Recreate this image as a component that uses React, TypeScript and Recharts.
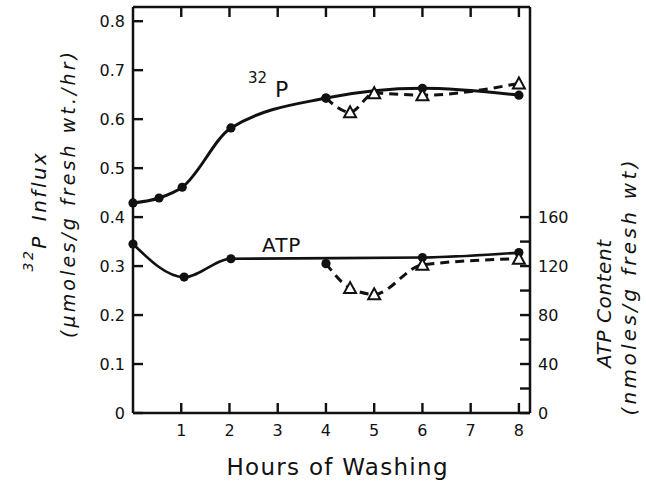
import React from 'react';
import { LineChart, Line, XAxis, YAxis, Label } from 'recharts';

// hours of washing and readings taken off the figure
const p32Hours = [0, 0.54, 1.02, 2.03, 4.0, 6.0, 8.0];
const p32Influx = [0.429, 0.439, 0.461, 0.582, 0.643, 0.663, 0.649];
const p32DipHours = [4.0, 4.5, 5.0, 6.0, 8.0];
const p32DipInflux = [0.643, 0.614, 0.653, 0.649, 0.673];

const atpHours = [0, 1.06, 2.03, 6.0, 8.0];
const atpContent = [138, 111, 126, 127, 131];
const atpDipHours = [4.0, 4.5, 5.0, 6.0, 8.0];
const atpDipContent = [122, 102, 97, 121, 126];

const hourTicks = [1, 2, 3, 4, 5, 6, 7, 8];
const influxTicks = [0, 0.1, 0.2, 0.3, 0.4, 0.5, 0.6, 0.7, 0.8];
const atpTicks = [0, 20, 40, 60, 80, 100, 120, 140, 160];

const toPoints = (xs: number[], ys: number[]) => xs.map((x, i) => ({ x, y: ys[i] }));

const ink = '#111';
const font = '"DejaVu Sans", sans-serif';

const xMax = 8.23;
const influxMax = 0.829;
const atpMax = 331.6;

const FilledDot = (props: any) => (
  <circle key={`f-${props.index}`} cx={props.cx} cy={props.cy} r={4.6} fill={ink} />
);

// first point of a dip series is the shared filled circle, the rest are open triangles
const DipDot = (props: any) => {
  const { cx, cy, index } = props;
  if (index === 0) return <circle key={`c-${index}`} cx={cx} cy={cy} r={4.6} fill={ink} />;
  return (
    <path
      key={`t-${index}`}
      d={`M${cx},${cy - 6} L${cx - 6},${cy + 5} L${cx + 6},${cy + 5} Z`}
      fill="#fff"
      stroke={ink}
      strokeWidth={2}
    />
  );
};

// inward frame ticks, placed at the tick values by the chart's scales
const tickMark = (dx: number, dy: number) => (props: any) => (
  <rect
    key={`m-${props.index}`}
    x={Math.min(props.cx, props.cx + dx) - (dx === 0 ? 1.2 : 0)}
    y={Math.min(props.cy, props.cy + dy) - (dy === 0 ? 1.2 : 0)}
    width={dx === 0 ? 2.4 : Math.abs(dx)}
    height={dy === 0 ? 2.4 : Math.abs(dy)}
    fill={ink}
  />
);
const UpMark = tickMark(0, -10);
const DownMark = tickMark(0, 10);
const RightMark = tickMark(10, 0);
const LeftMark = tickMark(-10, 0);

const BottomTick = (props: any) => (
  <text x={props.x} y={props.y + 23} textAnchor="middle" fontSize={16} fontFamily={font} fill={ink}>
    {props.payload.value}
  </text>
);

const LeftTick = (props: any) => {
  const v = props.payload.value;
  return (
    <text x={props.x - 8} y={props.y} dy="0.36em" textAnchor="end" fontSize={16} fontFamily={font} fill={ink}>
      {v === 0 ? '0' : v.toFixed(1)}
    </text>
  );
};

const RightTick = (props: any) => {
  const v = props.payload.value;
  if (v % 40 !== 0) return <g />;
  return (
    <text x={props.x + 8} y={props.y} dy="0.36em" textAnchor="start" fontSize={16} fontFamily={font} fill={ink}>
      {v}
    </text>
  );
};

// all the free text of the figure, drawn inside the chart's own svg
const FigureText = () => (
  <g fontFamily={font} fill={ink}>
    <text x={248} y={83} fontSize={15}>32</text>
    <text x={275} y={97} fontSize={22}>P</text>
    <text x={262} y={252} fontSize={20} letterSpacing={1}>ATP</text>
    <text x={337} y={475} fontSize={23} textAnchor="middle" textLength={221} lengthAdjust="spacing">
      Hours of Washing
    </text>
    <g transform="translate(46,211) rotate(-90)">
      <text x={0} y={0} textAnchor="middle" fontStyle="italic" letterSpacing={2.5} wordSpacing={4}>
        <tspan fontSize={14} dy={-13}>32</tspan>
        <tspan fontSize={20} dy={13}>P Influx</tspan>
      </text>
    </g>
    <g transform="translate(75,195) rotate(-90)">
      <text x={0} y={0} textAnchor="middle" fontStyle="italic" fontSize={19} textLength={286} lengthAdjust="spacing">
        (μmoles/g fresh wt./hr)
      </text>
    </g>
    <g transform="translate(611,304) rotate(-90)">
      <text x={0} y={0} textAnchor="middle" fontStyle="italic" fontSize={20} textLength={128} lengthAdjust="spacing">
        ATP Content
      </text>
    </g>
    <g transform="translate(636,288) rotate(-90)">
      <text x={0} y={0} textAnchor="middle" fontStyle="italic" fontSize={20} textLength={255} lengthAdjust="spacing">
        (nmoles/g fresh wt)
      </text>
    </g>
  </g>
);

const axisLine = { stroke: ink, strokeWidth: 2.5 };

export default function App() {
  const p32Points = toPoints(p32Hours, p32Influx);
  const p32DipPoints = toPoints(p32DipHours, p32DipInflux);
  const atpPoints = toPoints(atpHours, atpContent);
  const atpDipPoints = toPoints(atpDipHours, atpDipContent);

  const bottomMarks = hourTicks.map((h) => ({ x: h, y: 0 }));
  const topMarks = hourTicks.map((h) => ({ x: h, y: influxMax }));
  const leftMarks = influxTicks.map((v) => ({ x: 0, y: v }));
  const rightMarks = atpTicks.map((v) => ({ x: xMax, y: v }));
  const topFrame = [{ x: 0, y: influxMax }, { x: xMax, y: influxMax }];

  return (
    <div style={{ position: 'absolute', left: 0, top: 0, width: 646, height: 482, background: '#fff' }}>
      <LineChart width={646} height={482} margin={{ top: 7, right: 56, bottom: 39, left: 73 }}>
        <XAxis
          xAxisId="b"
          dataKey="x"
          type="number"
          domain={[0, xMax]}
          ticks={hourTicks}
          interval={0}
          tickSize={0}
          tickMargin={0}
          tickLine={false}
          tick={BottomTick}
          axisLine={axisLine}
          height={30}
        >
          <Label content={FigureText} />
        </XAxis>
        <YAxis
          yAxisId="left"
          type="number"
          domain={[0, influxMax]}
          ticks={influxTicks}
          interval={0}
          tickSize={0}
          tickMargin={0}
          tickLine={false}
          tick={LeftTick}
          axisLine={axisLine}
          width={60}
        />
        <YAxis
          yAxisId="right"
          orientation="right"
          type="number"
          domain={[0, atpMax]}
          ticks={atpTicks}
          interval={0}
          tickSize={0}
          tickMargin={0}
          tickLine={false}
          tick={RightTick}
          axisLine={axisLine}
          width={60}
        />

        {/* top edge of the frame and the frame tick marks */}
        <Line xAxisId="b" yAxisId="left" data={topFrame} dataKey="y" stroke={ink} strokeWidth={2.5} dot={false} activeDot={false} isAnimationActive={false} />
        <Line xAxisId="b" yAxisId="left" data={bottomMarks} dataKey="y" stroke="none" dot={UpMark} activeDot={false} isAnimationActive={false} />
        <Line xAxisId="b" yAxisId="left" data={topMarks} dataKey="y" stroke="none" dot={DownMark} activeDot={false} isAnimationActive={false} />
        <Line xAxisId="b" yAxisId="left" data={leftMarks} dataKey="y" stroke="none" dot={RightMark} activeDot={false} isAnimationActive={false} />
        <Line xAxisId="b" yAxisId="right" data={rightMarks} dataKey="y" stroke="none" dot={LeftMark} activeDot={false} isAnimationActive={false} />

        <Line
          xAxisId="b"
          yAxisId="left"
          data={p32Points}
          dataKey="y"
          type="monotone"
          stroke={ink}
          strokeWidth={3}
          dot={FilledDot}
          isAnimationActive={false}
        />
        <Line
          xAxisId="b"
          yAxisId="right"
          data={atpPoints}
          dataKey="y"
          type="monotone"
          stroke={ink}
          strokeWidth={2.6}
          dot={FilledDot}
          isAnimationActive={false}
        />
        <Line
          xAxisId="b"
          yAxisId="left"
          data={p32DipPoints}
          dataKey="y"
          type="monotone"
          stroke={ink}
          strokeWidth={3}
          strokeDasharray="9 6"
          dot={DipDot}
          isAnimationActive={false}
        />
        <Line
          xAxisId="b"
          yAxisId="right"
          data={atpDipPoints}
          dataKey="y"
          type="monotone"
          stroke={ink}
          strokeWidth={3}
          strokeDasharray="9 6"
          dot={DipDot}
          isAnimationActive={false}
        />
      </LineChart>
    </div>
  );
}
